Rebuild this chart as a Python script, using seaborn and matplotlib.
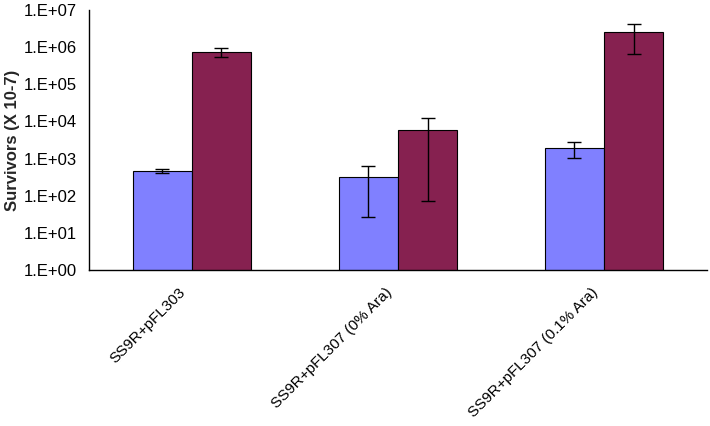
import matplotlib

matplotlib.use("Agg")

import matplotlib.pyplot as plt
import numpy as np
import pandas as pd
import seaborn as sns
from matplotlib.ticker import FixedLocator, FuncFormatter, NullLocator
from matplotlib.transforms import ScaledTranslation

# Data
groups = ["SS9R+pFL303", "SS9R+pFL307 (0% Ara)", "SS9R+pFL307 (0.1% Ara)"]
series = ["A", "B"]
values_a = [463, 313, 1890]
values_b = [755000, 5890, 2500000]
err_hi_a = [525, 620, 2800]
err_lo_a = [400, 27, 1040]
err_hi_b = [967000, 12600, 4270000]
err_lo_b = [553000, 72, 667000]

COLORS = ["#8080FF", "#862150"]

df = pd.DataFrame(
    {
        "group": groups * 2,
        "series": [series[0]] * 3 + [series[1]] * 3,
        "value": values_a + values_b,
        "hi": err_hi_a + err_hi_b,
        "lo": err_lo_a + err_lo_b,
    }
)

sns.set_style("white")
plt.rcParams["font.family"] = ["Liberation Sans", "DejaVu Sans"]

fig = plt.figure(figsize=(7.1, 4.26), dpi=100)
ax = fig.add_axes([0.125, 0.366, 0.871, 0.611])

sns.barplot(
    data=df,
    x="group",
    y="value",
    hue="series",
    order=groups,
    hue_order=series,
    palette=COLORS,
    saturation=1,
    width=0.575,
    gap=0,
    edgecolor="black",
    linewidth=0.8,
    errorbar=None,
    legend=False,
    ax=ax,
)
ax.set_yscale("log")

# Asymmetric error bars, placed at the centres of the drawn bars
bars = [p for p in ax.patches if p.get_width() > 0]
for bar in bars:
    cx = bar.get_x() + bar.get_width() / 2
    top = bar.get_height()
    row = df[np.isclose(df["value"], top)].iloc[0]
    ax.errorbar(
        cx,
        top,
        yerr=[[top - row["lo"]], [row["hi"] - top]],
        fmt="none",
        ecolor="black",
        elinewidth=1,
        capsize=5,
        capthick=1,
    )

ax.set_ylim(1, 1e7)
ax.set_xlim(-0.5, 2.5)
ax.yaxis.set_major_locator(FixedLocator([10.0**k for k in range(8)]))
ax.yaxis.set_minor_locator(NullLocator())
ax.yaxis.set_major_formatter(FuncFormatter(lambda v, _: f"1.E+{int(round(np.log10(v))):02d}"))

ax.set_xticks(range(len(groups)))
ax.set_xticklabels(groups, rotation=45, ha="right", rotation_mode="anchor")
ax.set_xticks([0.5, 1.5, 2.5], minor=True)
ax.tick_params(axis="x", which="major", length=0, pad=11, labelsize=11)
ax.tick_params(axis="x", which="minor", length=5, width=1, direction="out", color="black")
ax.tick_params(axis="y", length=5, width=1, direction="out", color="black", labelsize=12)
ax.tick_params(axis="both", labelcolor="black")

# nudge the rotated labels a little left (after tick_params, which resets transforms)
shift = ScaledTranslation(-0.13, 0, fig.dpi_scale_trans)
for lbl in ax.get_xticklabels():
    lbl.set_transform(lbl.get_transform() + shift)

ax.set_xlabel("")
ax.set_ylabel("Survivors (X 10-7)", fontsize=12, fontweight="bold", labelpad=3)

sns.despine(ax=ax)
for side in ("left", "bottom"):
    ax.spines[side].set_color("black")
    ax.spines[side].set_linewidth(1)

fig.savefig("out.png", dpi=100)
plt.close(fig)
